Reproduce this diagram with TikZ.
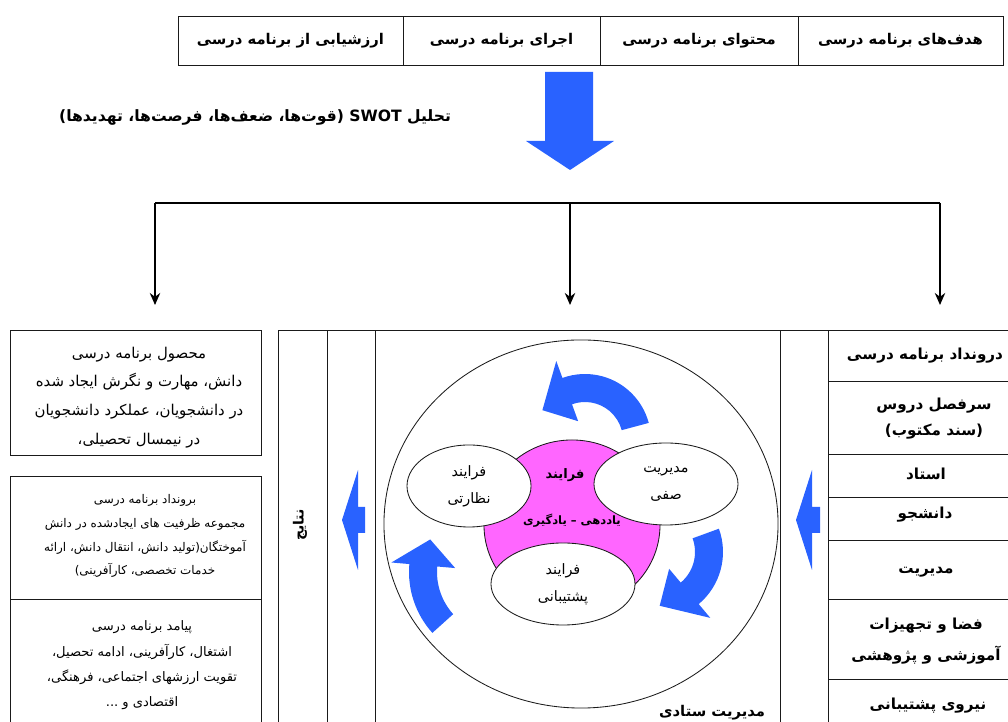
\documentclass[tikz,border=0pt]{standalone}
\usepackage{fontspec}
\usetikzlibrary{arrows.meta,calc,positioning,shapes.geometric}
\newfontfamily\farsi[Script=Arabic]{DejaVu Sans}
\TeXXeTstate=1
\definecolor{FlowBlue}{HTML}{2962FF}
\definecolor{CorePink}{HTML}{FF66FF}
\definecolor{FrameInk}{HTML}{1A1A1A}
\newcommand{\fa}[1]{\beginR #1\endR}
% curved arrow: center, mid radius, tail angle, head base angle, tip angle
\newcommand{\swirl}[5]{%
  \fill[FlowBlue] #1 ++(#3:{#2+14}) arc[start angle=#3, end angle=#4, radius={#2+14}]
    -- ($#1+(#4:{#2+32})$) -- ($#1+(#5:#2)$) -- ($#1+(#4:{#2-32})$) -- ($#1+(#4:{#2-14})$)
    arc[start angle=#4, end angle=#3, radius={#2-14}] -- cycle;}
\tikzset{
  every node/.style={font=\farsi, text=black},
  frame/.style={draw=FrameInk, line width=0.6pt},
  topbox/.style={frame, minimum height=1.225cm, inner sep=0pt, font={\farsi\bfseries\fontsize{10.5}{13}\selectfont}},
  sidebox/.style={frame, minimum width=6.275cm, inner sep=0pt},
  sidetext/.style={align=center, inner sep=0pt},
  rowtext/.style={align=center, inner sep=0pt, font={\farsi\bfseries\fontsize{10.8}{19}\selectfont}},
  cell/.style={frame, ellipse, fill=white, inner sep=0pt, minimum height=2.05cm, align=center, font={\farsi\fontsize{10.2}{19}\selectfont}},
  branch/.style={draw=black, line width=1.2pt},
  feed/.style={branch, -{Stealth[length=3mm,width=2.6mm]}},
  bigarrow/.style={fill=FlowBlue},
}
\begin{document}
\begin{tikzpicture}[x=0.025cm,y=0.025cm]
  \useasboundingbox (0,0) rectangle (1008,722);
  % Top row of curriculum stages
  \node[topbox, minimum width=5.125cm] (goals) at (900.5,681.5) {\fa{هدف‌های برنامه درسی}};
  \node[topbox, minimum width=4.95cm] (content) at (699,681.5) {\fa{محتوای برنامه درسی}};
  \node[topbox, minimum width=4.925cm] (run) at (501.5,681.5) {\fa{اجرای برنامه درسی}};
  \node[topbox, minimum width=5.625cm] (assess) at (290.5,681.5) {\fa{ارزشیابی از برنامه درسی}};
  % Big arrow and SWOT label
  \fill[bigarrow] (545,650) -- (593,650) -- (593,581) -- (614,581) -- (570,552) -- (526,581) -- (545,581) -- cycle;
  \node[anchor=east, font={\farsi\bfseries\fontsize{11.1}{12}\selectfont}] (swot) at (456,605)
    {\fa{تحلیل \beginL SWOT\endL{} (قوت‌ها، ضعف‌ها، فرصت‌ها، تهدیدها)}};
  % Fork to the three columns
  \coordinate (forkL) at (155,519);
  \coordinate (forkM) at (570,519);
  \coordinate (forkR) at (940,519);
  \coordinate (inL) at (155,417);
  \coordinate (inM) at (570,417);
  \coordinate (inR) at (940,417);
  \draw[branch] (forkL) -- (forkR);
  \draw[feed] (forkL) -- (inL);
  \draw[feed] (forkM) -- (inM);
  \draw[feed] (forkR) -- (inR);
  % Left column: outcomes
  \node[sidebox, minimum height=3.125cm] (product) at (135.5,329.5) {};
  \node[sidetext, font={\farsi\fontsize{10.6}{20.5}\selectfont}] (producttext) at (139,324.5)
    {\fa{محصول برنامه درسی}\\\fa{دانش، مهارت و نگرش ایجاد شده}\\\fa{در دانشجویان، عملکرد دانشجویان}\\\fa{در نیمسال تحصیلی،}};
  \node[sidebox, minimum height=3.075cm] (output) at (135.5,184.5) {};
  \node[sidetext, font={\farsi\fontsize{8.5}{17}\selectfont}] (outputtext) at (145,186)
    {\fa{برونداد برنامه درسی}\\\fa{مجموعه ظرفیت های ایجادشده در دانش}\\\fa{آموختگان(تولید دانش، انتقال دانش، ارائه}\\\fa{خدمات تخصصی، کارآفرینی)}};
  \draw[frame] (10,0) -- (10,123) -- (261,123) -- (261,0);
  \node[sidetext, font={\farsi\fontsize{9.3}{18}\selectfont}] (impact) at (142,56.5)
    {\fa{پیامد برنامه درسی}\\\fa{اشتغال، کارآفرینی، ادامه تحصیل،}\\\fa{تقویت ارزشهای اجتماعی، فرهنگی،}\\\fa{اقتصادی و ...}};
  % Middle frame and right column grid
  \draw[frame] (278,0) -- (278,392) -- (1008,392);
  \foreach \xx in {327,375,780,828}
    \draw[frame] (\xx,0) -- (\xx,392);
  \foreach \yy in {341,268,225,182,123,43}
    \draw[frame] (828,\yy) -- (1008,\yy);
  % Right column: inputs
  \node[rowtext] (input) at (925,366) {\fa{درونداد برنامه درسی}};
  \node[rowtext] (syllabus) at (934,303.5) {\fa{سرفصل دروس}\\\fa{(سند مکتوب)}};
  \node[rowtext] (teacher) at (926,248) {\fa{استاد}};
  \node[rowtext] (student) at (925,207) {\fa{دانشجو}};
  \node[rowtext] (manage) at (926,150) {\fa{مدیریت}};
  \node[rowtext, font={\farsi\bfseries\fontsize{10.8}{22.5}\selectfont}] (space) at (926,81) {\fa{فضا و تجهیزات}\\\fa{آموزشی و پژوهشی}};
  \node[rowtext] (staff) at (928,16) {\fa{نیروی پشتیبانی}};
  % Side arrows and results label
  \fill[bigarrow] (342,202) -- (358,252) -- (358,215) -- (365,215) -- (365,189) -- (358,189) -- (358,152) -- cycle;
  \fill[bigarrow] (796,202) -- (812,252) -- (812,215) -- (820,215) -- (820,189) -- (812,189) -- (812,152) -- cycle;
  \node[rotate=90, font={\farsi\bfseries\fontsize{10}{12}\selectfont}] (results) at (300,197) {\fa{نتایج}};
  % Cycle of teaching and learning
  \node[frame, ellipse, minimum width=9.85cm, minimum height=9.2cm, inner sep=0pt] (cycle) at (581,198) {};
  \node[ellipse, fill=CorePink, draw=FrameInk, line width=0.6pt, minimum width=4.4cm, minimum height=4.25cm, inner sep=0pt] (core) at (572,197) {};
  \swirl{(585,282)}{52}{15}{110}{145}
  \swirl{(655,170)}{54}{20}{-50}{-85}
  \swirl{(500,150)}{77}{222}{175}{155}
  \node[cell, minimum width=3.1cm] (watch) at (469,236) {\fa{فرایند}\\\fa{نظارتی}};
  \node[cell, minimum width=3.6cm] (class) at (666,238) {\fa{مدیریت}\\\fa{صفی}};
  \node[cell, minimum width=3.6cm] (support) at (563,138) {\fa{فرایند}\\\fa{پشتیبانی}};
  \node[font={\farsi\bfseries\fontsize{9.3}{12}\selectfont}] (coreA) at (565,247) {\fa{فرایند}};
  \node[font={\farsi\bfseries\fontsize{8.2}{12}\selectfont}] (coreB) at (572,201) {\fa{یاددهی – یادگیری}};
  \node[anchor=east, font={\farsi\bfseries\fontsize{10.5}{12}\selectfont}] (staffmgmt) at (770,9) {\fa{مدیریت ستادی}};
\end{tikzpicture}
\end{document}
